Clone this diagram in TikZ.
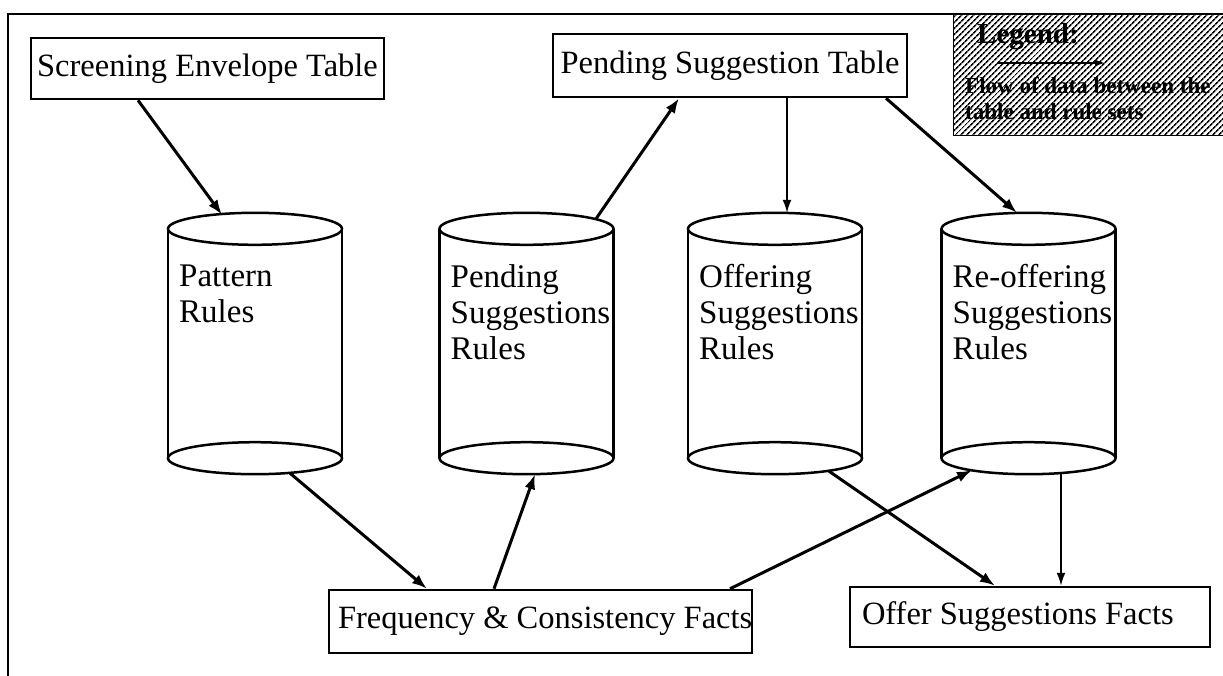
\documentclass[tikz,border=0pt]{standalone}
\usepackage{fontspec}
\setmainfont{Liberation Serif}
\usetikzlibrary{arrows.meta,patterns.meta,calc}
\begin{document}
\begin{tikzpicture}[x=1pt,y=-1pt,
  box/.style={draw,line width=2.5pt,rectangle,inner sep=0pt,font=\fontsize{32.5}{36}\selectfont},
  arr/.style={line width=3pt,-{Latex[length=15pt,width=11pt]}},
  tarr/.style={line width=1.8pt,-{Latex[length=13pt,width=9pt]}},
  cylbox/.style={rectangle,minimum width=174pt,minimum height=261pt,inner sep=0pt},
  cyltxt/.style={anchor=north west,align=left,inner sep=0pt,font=\fontsize{33}{36}\selectfont},
  cylline/.style={line width=2.5pt}]
\useasboundingbox (0,0) rectangle (1223,675);
% frame
\draw[line width=2.5pt] (8,690) -- (8,14) -- (1240,14);
% legend
\node[draw,line width=1pt,pattern={Lines[angle=45,distance=4pt,line width=1.7pt]},
  minimum width=272pt,minimum height=121pt,anchor=north west,inner sep=0pt] (leg) at (953,14) {};
\node[anchor=base west,inner sep=0pt,font=\bfseries\fontsize{29}{30}\selectfont] (legt) at (977,43) {Legend:};
\coordinate (la) at (997,63);
\coordinate (lb) at (1105,63);
\draw[line width=1.4pt,-{Latex[length=10pt,width=7pt]}] (la) -- (lb);
\node[anchor=north west,align=left,inner sep=0pt,font=\bfseries\fontsize{23}{26}\selectfont] (legd) at (965,77.5) {Flow of data between the\\table and rule sets};
% tables and facts
\node[box,minimum width=353pt,minimum height=61pt] (seb) at (207.5,68.5) {Screening Envelope Table};
\node[box,minimum width=354pt,minimum height=63pt] (pst) at (730,65.5) {Pending Suggestion Table};
\node[box,minimum height=63pt,inner xsep=9pt] (freq) at (540.5,621.5) {\makebox[405pt][l]{Frequency \& Consistency Facts}};
\node[box,minimum height=60pt,inner xsep=12pt] (osf) at (1030,617) {\makebox[336pt][l]{Offer Suggestions Facts}};
% cylinders
\node[cylbox] (c1) at (255,343.5) {};
\node[cylbox] (c2) at (526.5,343.5) {};
\node[cylbox] (c3) at (775,343.5) {};
\node[cylbox] (c4) at (1028.5,343.5) {};
\foreach \c in {c1,c2,c3,c4}{
  \draw[cylline] ([yshift=-16pt]\c.north) ellipse [x radius=87pt, y radius=16pt];
  \draw[cylline] ([yshift=16pt]\c.south) ellipse [x radius=87pt, y radius=16pt];
  \draw[cylline] ([yshift=-16pt]\c.north west) -- ([yshift=16pt]\c.south west);
  \draw[cylline] ([yshift=-16pt]\c.north east) -- ([yshift=16pt]\c.south east);
}
\node[cyltxt] (t1) at (179,264.5) {Pattern\\Rules};
\node[cyltxt] (t2) at (450.5,264.5) {Pending\\Suggestions\\Rules};
\node[cyltxt] (t3) at (699,264.5) {Offering\\Suggestions\\Rules};
\node[cyltxt] (t4) at (952.5,264.5) {Re-offering\\Suggestions\\Rules};
% connectors
\draw[arr] ([xshift=-69.5pt]seb.south) -- ([xshift=-33pt,yshift=-2pt]c1.north);
\draw[arr] ([xshift=69.5pt,yshift=-6pt]c2.north) -- ([xshift=-51pt]pst.south);
\draw[tarr] ([xshift=57pt]pst.south) -- ([xshift=12pt]c3.north);
\draw[arr] ([xshift=156pt]pst.south) -- ([xshift=-11.5pt]c4.north);
\draw[arr] ([xshift=35pt,yshift=1pt]c1.south) -- ([xshift=-113.5pt]freq.north);
\draw[arr] ([xshift=-46.5pt]freq.north) -- ([xshift=8.5pt]c2.south);
\draw[arr] ([xshift=189.5pt]freq.north) -- ([xshift=-56.5pt,yshift=4pt]c4.south);
\draw[arr] ([xshift=54pt,yshift=3pt]c3.south) -- ([xshift=-35pt]osf.north);
\draw[tarr] ([xshift=32.5pt,yshift=1pt]c4.south) -- ([xshift=31pt]osf.north);
\end{tikzpicture}
\end{document}
